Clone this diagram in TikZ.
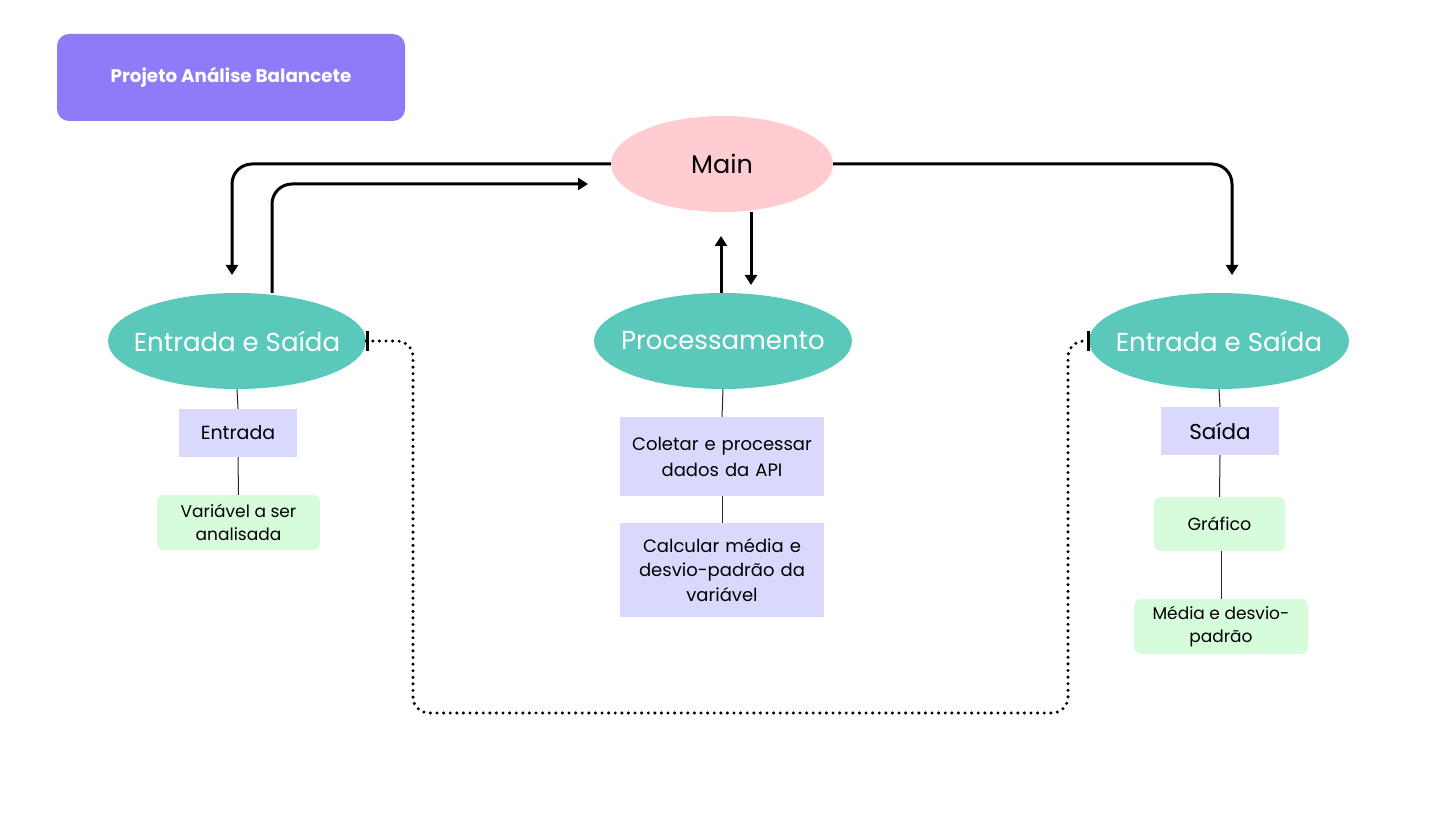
\documentclass[tikz,border=0pt]{standalone}
\usepackage{fontspec}
\setmainfont{Poppins}
\usetikzlibrary{arrows.meta,shapes.geometric}
\definecolor{titlec}{HTML}{8F7AF8}
\definecolor{mainc}{HTML}{FFCCD2}
\definecolor{tealc}{HTML}{5BC8BC}
\definecolor{lavc}{HTML}{D8D9FC}
\definecolor{greenc}{HTML}{D6FCDC}
\tikzset{
  ell/.style={ellipse, fill=tealc, inner sep=0pt, minimum height=96pt,
    label={[text=white, font=\fontsize{26}{28}\selectfont]center:#1}},
  lavbox/.style={rectangle, fill=lavc, inner sep=0pt, align=center, font=\fontsize{18}{24.5}\selectfont},
  grnbox/.style={rectangle, rounded corners=7pt, fill=greenc, inner sep=0pt, align=center, font=\fontsize{17}{23}\selectfont},
  conn/.style={line width=3pt, rounded corners=20pt, -{Triangle[length=10pt,width=12pt]}},
  thin/.style={line width=1pt, black!85},
  dots/.style={line width=3.4pt, dash pattern=on 0pt off 6.6pt, line cap=round, rounded corners=16pt},
}
\begin{document}
\begin{tikzpicture}[x=1pt,y=-1pt]
\useasboundingbox (0,0) rectangle (1445,834);
% title
\node[rectangle, rounded corners=12pt, fill=titlec, minimum width=348pt, minimum height=87pt, text=white, font=\bfseries\fontsize{18.3}{20}\selectfont] (title) at (231,77.5) {Projeto Análise Balancete};
% ellipses
\node[ellipse, fill=mainc, minimum width=222pt, minimum height=96pt, font=\fontsize{25.5}{28}\selectfont, inner sep=0pt] (main) at (722,164) {Main};
\node[ell={Entrada e Saída}, minimum width=258pt] (es1) at (237,341) {};
\node[ell={Processamento}, minimum width=258pt] (proc) at (723,341) {};
\node[ell={Entrada e Saída}, minimum width=260pt] (es2) at (1219,341) {};
% boxes left
\node[lavbox, minimum width=118pt, minimum height=48pt, font=\fontsize{19}{22}\selectfont] (entrada) at (238,433) {Entrada};
\node[grnbox, minimum width=163pt, minimum height=55pt] (var) at (238.5,522.5) {Variável a ser\\analisada};
% boxes middle
\node[lavbox, minimum width=204pt, minimum height=79pt, text width=200pt, font=\fontsize{18}{26}\selectfont] (colet) at (722,456.5) {Coletar e processar\\dados da API};
\node[lavbox, minimum width=204pt, minimum height=94pt, text width=200pt] (calc) at (722,570) {Calcular média e\\desvio-padrão da\\variável};
% boxes right
\node[lavbox, minimum width=118pt, minimum height=48pt, font=\fontsize{21.5}{24}\selectfont] (saida) at (1220,431) {Saída};
\node[grnbox, minimum width=131pt, minimum height=54pt, font=\fontsize{17.5}{23}\selectfont] (graf) at (1219.5,524) {Gráfico};
\node[grnbox, minimum width=174pt, minimum height=55pt] (media) at (1221,626.5) {Média e desvio-\\padrão};
% thin lines
\draw[thin] (es1.south) -- (entrada.north);
\draw[thin] (entrada.south) -- (var.north);
\draw[thin] (proc.south) -- (colet.north);
\draw[thin] (colet.south) -- (calc.north);
\draw[thin] (es2.south) -- (saida.north);
\draw[thin] (saida.south) -- (graf.north);
\draw[thin] (graf.south -| media.north) -- (media.north);
% connectors
\coordinate (a1) at (232,275);
\coordinate (a2) at (588,184);
\coordinate (a3) at (751,285);
\coordinate (a4) at (721,236);
\coordinate (a5) at (1232,275);
\draw[conn] (main.west) -- (a1 |- main.west) -- (a1);
\draw[conn] (es1.north -| 272,0) -- (272,184) -- (a2);
\draw[conn] (a3 |- main.south) -- (a3);
\draw[conn] (proc.north -| a4) -- (a4);
\draw[conn] (main.east) -- (a5 |- main.east) -- (a5);
% dotted
\draw[dots] (es1.east) -- (413,341) -- (413,713) -- (1068,713) -- (1068,341) -- (es2.west);
\draw[line width=3.4pt] (es1.east) ++(1.5,-10) -- ++(0,20);
\draw[line width=3.4pt] (es2.west) ++(-0.5,-10) -- ++(0,20);
\end{tikzpicture}
\end{document}
